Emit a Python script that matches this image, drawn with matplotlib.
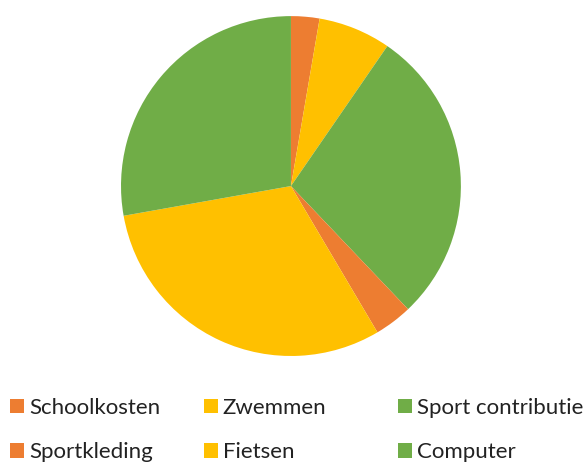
import matplotlib
matplotlib.use("Agg")
import matplotlib.pyplot as plt
from matplotlib.patches import Patch

labels = ["Schoolkosten", "Zwemmen", "Sport contributie", "Sportkleding", "Fietsen", "Computer"]
values = [2.7, 6.9, 28.3, 3.6, 30.7, 27.8]
colors = ["#ED7D31", "#FFC000", "#70AD47", "#ED7D31", "#FFC000", "#70AD47"]

plt.rcParams['font.family'] = ['Lato', 'DejaVu Sans']

fig = plt.figure(figsize=(5.86, 4.65), dpi=100)
ax = fig.add_axes([0.2065, 0.2344, 0.580, 0.731])
ax.pie(values, colors=colors, startangle=90, counterclock=False,
       wedgeprops=dict(linewidth=0))
ax.set_aspect('equal')
ax.set_xlim(-1, 1)
ax.set_ylim(-1, 1)
ax.axis('off')

# legend: three columns of equal width, two rows
col_x = [10 / 586, 204 / 586, 398 / 586]
for c in range(3):
    handles = [Patch(facecolor=colors[c + 3 * r], label=labels[c + 3 * r]) for r in range(2)]
    fig.legend(handles=handles, loc='upper left', bbox_to_anchor=(col_x[c], 1 - 398 / 465),
               frameon=False, fontsize=16, labelcolor='#222222',
               handlelength=0.63, handleheight=0.63, handletextpad=0.22,
               labelspacing=1.1, borderpad=0, borderaxespad=0)

fig.savefig("out.png", dpi=100)
